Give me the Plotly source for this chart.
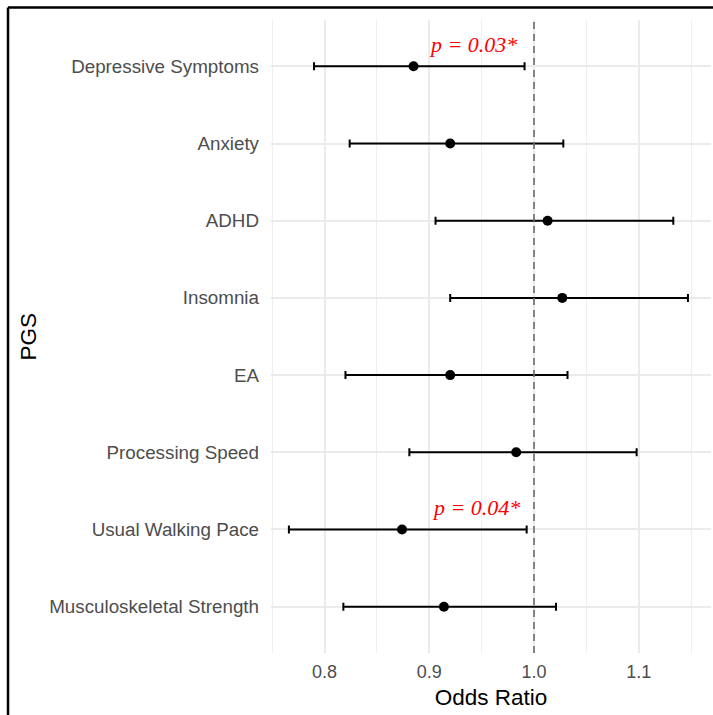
import plotly.graph_objects as go

# Data (top to bottom as shown)
categories = ["Depressive Symptoms", "Anxiety", "ADHD", "Insomnia", "EA",
              "Processing Speed", "Usual Walking Pace", "Musculoskeletal Strength"]
odds_ratio = [0.885, 0.920, 1.013, 1.027, 0.920, 0.983, 0.874, 0.914]
ci_lower = [0.790, 0.824, 0.906, 0.920, 0.820, 0.881, 0.766, 0.818]
ci_upper = [0.991, 1.028, 1.133, 1.147, 1.032, 1.098, 0.993, 1.021]
annot_text = ["<i>p = 0.03*</i>", "<i>p = 0.04*</i>"]
annot_cat = ["Depressive Symptoms", "Usual Walking Pace"]
annot_x = [0.9414, 0.945]
x_ticks = [0.8, 0.9, 1.0, 1.1]
x_minor = [0.75, 0.85, 0.95, 1.05, 1.15]

n = len(categories)
ypos = [n - 1 - i for i in range(n)]
err_plus = [u - o for u, o in zip(ci_upper, odds_ratio)]
err_minus = [o - l for o, l in zip(odds_ratio, ci_lower)]

fig = go.Figure()
fig.add_trace(go.Scatter(
    x=odds_ratio, y=ypos, mode="markers",
    marker=dict(color="black", size=10),
    error_x=dict(type="data", symmetric=False, array=err_plus, arrayminus=err_minus,
                 color="black", thickness=2, width=4),
    showlegend=False, hoverinfo="skip",
))

fig.add_shape(type="line", x0=1.0, x1=1.0, y0=0, y1=1, xref="x", yref="paper",
              line=dict(color="#6b6b6b", width=1.6, dash="7px,5px"), layer="above")

for t, c, x in zip(annot_text, annot_cat, annot_x):
    yi = ypos[categories.index(c)] + 0.28
    fig.add_annotation(x=x, y=yi, xref="x", yref="y", text=t, showarrow=False,
                       font=dict(family="Liberation Serif", size=22, color="#FF0000"))

# y-axis title placed as annotation to match position
fig.add_annotation(x=-0.552, y=0.5, xref="paper", yref="paper", text="PGS",
                   textangle=-90, showarrow=False, xanchor="center", yanchor="middle",
                   font=dict(family="Liberation Sans", size=22.5, color="black"))

# outer frame (left and top edges visible)
fig.add_shape(type="line", xref="paper", yref="paper", x0=-0.5977, x1=1.2,
              y0=1.0197, y1=1.0197, line=dict(color="black", width=2.5))
fig.add_shape(type="line", xref="paper", yref="paper", x0=-0.5977, x1=-0.5977,
              y0=1.0197, y1=-0.2, line=dict(color="black", width=2.5))

fig.update_layout(
    width=713, height=715,
    margin=dict(l=271, r=2, t=20, b=62),
    paper_bgcolor="white", plot_bgcolor="white",
    font=dict(family="Liberation Sans"),
    xaxis=dict(
        range=[0.7489, 1.169], tickvals=x_ticks, ticktext=[f"{v:.1f}" for v in x_ticks],
        showgrid=True, gridcolor="#EBEBEB", gridwidth=1.5, zeroline=False,
        ticks="", ticklabelstandoff=6, tickfont=dict(size=18, color="#4D4D4D"),
        minor=dict(tickvals=x_minor, showgrid=True, gridcolor="#EFEFEF", gridwidth=1),
        title=dict(text="Odds Ratio", font=dict(size=22.5, color="black"), standoff=8),
        showline=False,
    ),
    yaxis=dict(
        range=[-0.6, n - 1 + 0.6], tickvals=ypos, ticktext=categories,
        showgrid=True, gridcolor="#EBEBEB", gridwidth=1.5, zeroline=False,
        ticks="", ticklabelstandoff=11, tickfont=dict(size=18.8, color="#4D4D4D"),
        showline=False,
    ),
)

fig.write_html("out.html")
